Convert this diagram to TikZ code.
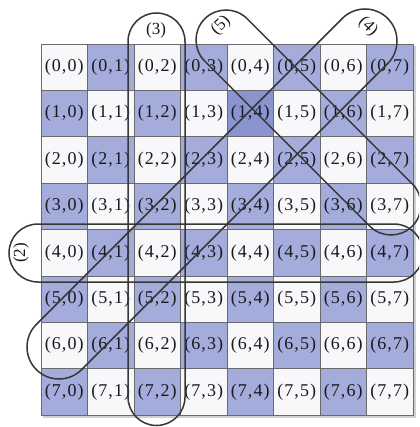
\documentclass[tikz,border=0pt]{standalone}
\usepackage{fontspec}
\setmainfont{Liberation Serif}
\newfontfamily\cellfont[LetterSpace=6]{Liberation Serif}
\usetikzlibrary{calc}
\definecolor{cellblue}{RGB}{164,172,220}
\definecolor{celldark}{RGB}{138,148,206}
\definecolor{cellwhite}{RGB}{248,248,250}
\definecolor{gridc}{RGB}{105,105,110}
\definecolor{loopc}{RGB}{55,55,55}
\definecolor{txtc}{RGB}{25,25,30}
\tikzset{
  cell/.style={draw=gridc, line width=0.8pt, minimum width=46.5pt, minimum height=46.4pt,
    inner sep=0pt, text=txtc, font=\cellfont\fontsize{18}{18}\selectfont},
  loopline/.style={draw=loopc, line width=1.5pt},
  looplabel/.style={inner sep=0pt, text=txtc, font=\fontsize{17}{17}\selectfont}
}
\newcommand\stadium[4]{%
  \draw[loopline] ($(#1)+(#3+90:#4)$) -- ($(#2)+(#3+90:#4)$)
    arc[start angle=#3+90, end angle=#3-90, radius=#4]
    -- ($(#1)+(#3-90:#4)$)
    arc[start angle=#3-90, end angle=#3-270, radius=#4] -- cycle;}
\begin{document}
\begin{tikzpicture}[x=1pt,y=-1pt]
\useasboundingbox (0,0) rectangle (419,427);
\clip (0,0) rectangle (419,427);
\fill[white] (0,0) rectangle (419,427);
\fill[black!18] (43,46) rectangle (416,418);
\foreach \i in {0,...,7}{
  \foreach \j in {0,...,7}{
    \pgfmathtruncatemacro\pp{mod(\i+\j,2)}
    \ifnum\pp=1 \def\cc{cellblue}\else\def\cc{cellwhite}\fi
    \ifnum\i=1 \ifnum\j=4 \def\cc{celldark}\fi\fi
    \node[cell, fill=\cc] (c\i\j) at ({64.25+46.5*\j},{67.2+46.4*\i}) {(\i,\j)};
  }
}
% loops
\coordinate (a3) at (156.5,41.5);
\coordinate (b3) at (156.5,397);
\coordinate (a2) at (38,253);
\coordinate (b2) at (394,253);
\coordinate (a5) at (226,40);
\coordinate (b5) at (391,205);
\coordinate (a4) at (59,347);
\coordinate (b4) at (365,41);
\stadium{a3}{b3}{90}{28.5}
\stadium{a2}{b2}{0}{29}
\stadium{a5}{b5}{45}{30}
\stadium{a4}{b4}{-45}{32}
\node[looplabel] (l3) at (156,30) {(3)};
\node[looplabel, rotate=90] (l2) at (21,253) {(2)};
\node[looplabel, rotate=45] (l5) at (221,26) {(5)};
\node[looplabel, rotate=-45] (l4) at (368,27) {(4)};
\end{tikzpicture}
\end{document}
